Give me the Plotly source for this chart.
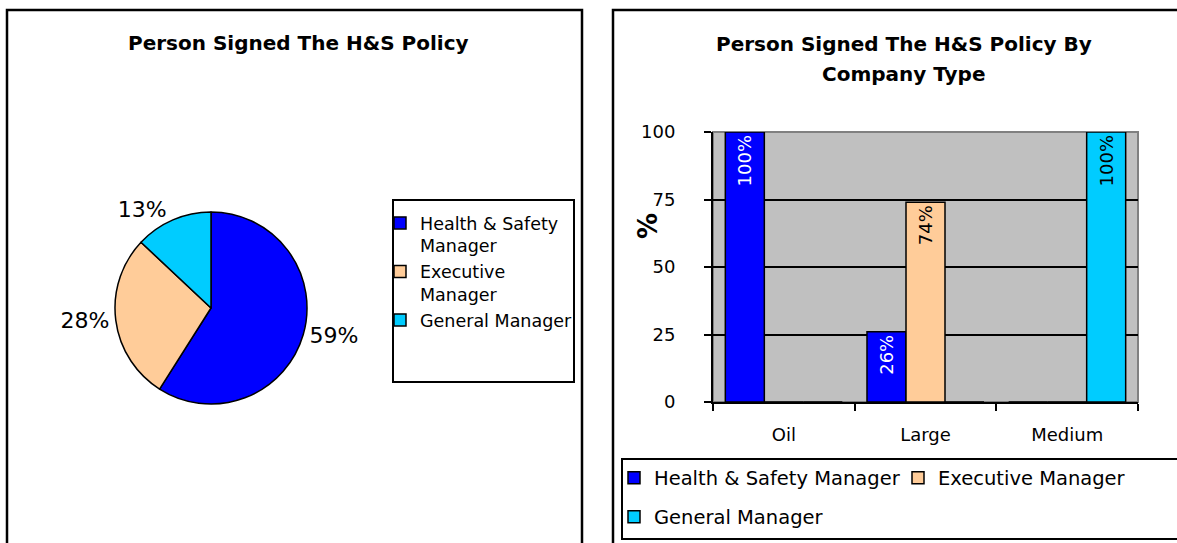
"""
Person signed the H&S policy: overall share (pie) and split by company type (bars)
"""
import plotly.graph_objects as go

W, H = 1177, 543
FONT = 'DejaVu Sans'

# overall share of who signed the policy
PIE_LABELS = ['Health & Safety<br>Manager', 'Executive<br>Manager', 'General Manager']
PIE_SHARE = [59, 28, 13]

# share by company type (%)
ROLES = ['Health & Safety Manager', 'Executive Manager', 'General Manager']
COMPANY_TYPES = ['Oil', 'Large', 'Medium']
HS_PCT = [100, 26, 0]
EXEC_PCT = [0, 74, 0]
GM_PCT = [0, 0, 100]
Y_TICKS = [0, 25, 50, 75, 100]

COLORS = ['#0000FF', '#FFCC99', '#00CCFF']
TEXT_COLORS = ['white', 'black', 'black']


def px_x(x):
    return x / W


def px_y(y):
    return 1 - y / H


def box(x0, y0, x1, y1, color='black', width=2):
    return dict(type='rect', xref='paper', yref='paper',
                x0=px_x(x0), x1=px_x(x1), y0=px_y(y1), y1=px_y(y0),
                line=dict(color=color, width=width), layer='above')


def title(text, x, y, size=20, angle=0):
    return dict(text=text, x=px_x(x), y=px_y(y), xref='paper', yref='paper',
                xanchor='center', yanchor='middle', showarrow=False,
                textangle=angle, font=dict(size=size, weight='bold'))


def create_figure() -> go.Figure:
    fig = go.Figure()

    # pie on the left panel
    fig.add_trace(go.Pie(
        labels=PIE_LABELS,
        values=PIE_SHARE,
        domain=dict(x=[px_x(115), px_x(307)], y=[px_y(404), px_y(212)]),
        sort=False,
        direction='clockwise',
        rotation=0,
        marker=dict(colors=COLORS, line=dict(color='black', width=1.5)),
        texttemplate='%{percent:.0%}',
        textposition='outside',
        outsidetextfont=dict(size=22, color='black', family=FONT),
        legend='legend2',
        hoverinfo='label+percent'
    ))

    # grouped bars on the right panel
    series = [HS_PCT, EXEC_PCT, GM_PCT]
    for i, vals in enumerate(series):
        fig.add_trace(go.Bar(
            x=COMPANY_TYPES,
            y=vals,
            name=ROLES[i],
            marker=dict(color=COLORS[i], line=dict(color='black', width=1.5)),
            text=[f'{v}%' if v else '' for v in vals],
            textposition='inside',
            insidetextanchor='end',
            textangle=-90,
            insidetextfont=dict(size=18, color=TEXT_COLORS[i], family=FONT),
            legend='legend3' if i == 2 else 'legend'
        ))

    legend_font = dict(size=19.5, color='black', family=FONT)
    fig.update_layout(
        width=W,
        height=H,
        autosize=False,
        margin=dict(l=0, r=0, t=0, b=0, autoexpand=False),
        paper_bgcolor='white',
        plot_bgcolor='#C0C0C0',
        font=dict(family=FONT, color='black'),
        barmode='group',
        bargap=0.174,
        bargroupgap=0,
        xaxis=dict(
            domain=[px_x(713), px_x(1138)],
            type='category',
            range=[-0.5, 2.5],
            tickson='boundaries',
            ticks='outside', ticklen=7, tickwidth=1.5, tickcolor='black',
            showline=True, linecolor='black', linewidth=2,
            showgrid=False,
            tickfont=dict(size=18),
            ticklabelstandoff=15,
            fixedrange=True
        ),
        yaxis=dict(
            domain=[px_y(402), px_y(132)],
            range=[0, 100],
            tickvals=Y_TICKS,
            ticks='outside', ticklen=7, tickwidth=1.5, tickcolor='black',
            showline=True, linecolor='black', linewidth=2,
            showgrid=True, gridcolor='black', gridwidth=1.5,
            zeroline=False,
            tickfont=dict(size=18),
            ticklabelstandoff=25,
            fixedrange=True
        ),
        legend=dict(
            orientation='h', x=px_x(614), xanchor='left',
            y=px_y(478), yanchor='middle',
            entrywidth=239, entrywidthmode='pixels',
            font=legend_font, bgcolor='rgba(0,0,0,0)', borderwidth=0
        ),
        legend3=dict(
            orientation='h', x=px_x(614), xanchor='left',
            y=px_y(517), yanchor='middle',
            font=legend_font, bgcolor='rgba(0,0,0,0)', borderwidth=0
        ),
        legend2=dict(
            orientation='v', x=px_x(380), xanchor='left',
            y=px_y(205), yanchor='top', valign='top',
            font=dict(size=17.5, color='black', family=FONT),
            bgcolor='rgba(0,0,0,0)', borderwidth=0
        ),
        shapes=[
            # panel frames
            box(7, 10, 582, 560, width=2.5),
            box(613, 10, 1190, 560, width=2.5),
            # legend frames
            box(393, 200, 574, 382),
            box(622, 459, 1190, 539),
            # grey plot-area border
            dict(type='rect', xref='x domain', yref='y domain',
                 x0=0, x1=1, y0=0, y1=1,
                 line=dict(color='#808080', width=2), layer='below'),
        ],
        annotations=[
            title('Person Signed The H&S Policy', 298, 43),
            title('Person Signed The H&S Policy By', 904, 44),
            title('Company Type', 904, 74),
            title('%', 648, 226, size=26, angle=-90),
        ]
    )
    return fig


fig = create_figure()
fig.write_html("out.html", config={'displayModeBar': False},
               post_script="document.body.style.margin='0px';")
